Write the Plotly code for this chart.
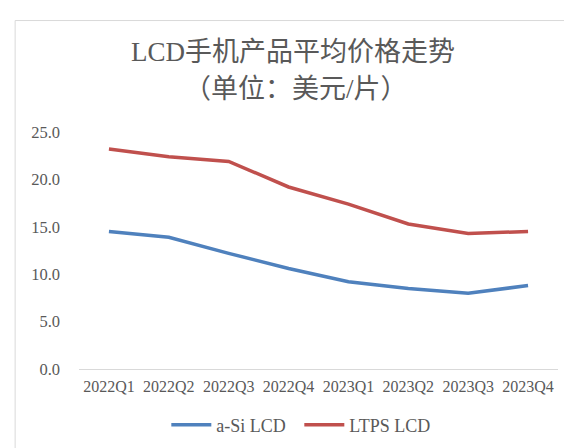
import plotly.graph_objects as go

quarters = ["2022Q1", "2022Q2", "2022Q3", "2022Q4", "2023Q1", "2023Q2", "2023Q3", "2023Q4"]
asi_lcd = [14.5, 13.9, 12.2, 10.6, 9.2, 8.5, 8.0, 8.8]
ltps_lcd = [23.2, 22.4, 21.9, 19.2, 17.4, 15.3, 14.3, 14.5]
y_ticks = [0, 5, 10, 15, 20, 25]
y_tick_labels = ["0.0", "5.0", "10.0", "15.0", "20.0", "25.0"]
title_line1 = "LCD手机产品平均价格走势"
title_line2 = "（单位：美元/片）"

W, H = 572, 448
L, R, T, B = 70.5, 21.5, 124, 80.5
pw, ph = W - L - R, H - T - B

def px_x(x):
    return (x - L) / pw

def px_y(y):
    return (H - B - y) / ph

grey = "#595959"
font_fam = "Liberation Serif, Noto Sans CJK SC, serif"

fig = go.Figure()
fig.add_trace(go.Scatter(x=quarters, y=asi_lcd, mode="lines", name="a-Si LCD",
                         line=dict(color="#4F81BD", width=3.5)))
fig.add_trace(go.Scatter(x=quarters, y=ltps_lcd, mode="lines", name="LTPS LCD",
                         line=dict(color="#C0504D", width=3.5)))

shapes = [
    dict(type="rect", xref="paper", yref="paper", x0=px_x(6.5), x1=px_x(590),
         y0=px_y(9.5), y1=px_y(470), line=dict(color="#D9D9D9", width=1),
         fillcolor="rgba(0,0,0,0)", layer="below"),
]

fig.update_layout(
    width=W, height=H,
    margin=dict(l=L, r=R, t=T, b=B, pad=0),
    paper_bgcolor="white", plot_bgcolor="white",
    showlegend=True,
    legend=dict(orientation="h", x=px_x(158), y=px_y(425), xanchor="left", yanchor="middle",
                font=dict(family=font_fam, size=18, color=grey), itemwidth=40,
                entrywidth=78, entrywidthmode="pixels",
                bgcolor="rgba(0,0,0,0)"),
    font=dict(family=font_fam, color=grey),
    xaxis=dict(type="category", showgrid=False, zeroline=False, showline=True,
               linecolor="#D9D9D9", linewidth=1, ticks="", range=[-0.5, 7.5],
               tickfont=dict(family=font_fam, size=16, color=grey), ticklabelstandoff=3),
    yaxis=dict(range=[0, 25], tickvals=y_ticks, ticktext=y_tick_labels, showgrid=False,
               zeroline=False, showline=False, ticks="",
               tickfont=dict(family=font_fam, size=16.5, color=grey), ticklabelstandoff=18),
    annotations=[
        dict(text=title_line1, xref="paper", yref="paper", x=px_x(285), y=px_y(42),
             xanchor="center", yanchor="middle", showarrow=False,
             font=dict(family=font_fam, size=27, color=grey)),
        dict(text=title_line2, xref="paper", yref="paper", x=px_x(288), y=px_y(80),
             xanchor="center", yanchor="middle", showarrow=False,
             font=dict(family=font_fam, size=27, color=grey)),
    ],
    shapes=shapes,
)

fig.write_html("out.html")
